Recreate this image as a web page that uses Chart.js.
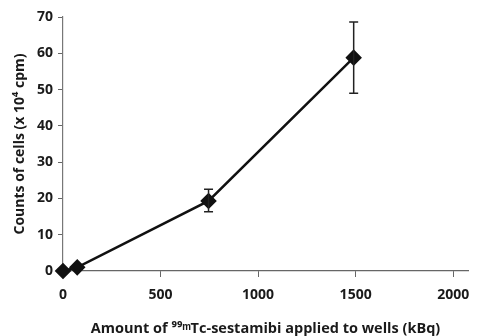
<!DOCTYPE html>
<html>
<head>
<meta charset="utf-8">
<script src="https://cdn.jsdelivr.net/npm/chart.js@4"></script>
<style>
html,body{margin:0;padding:0;background:#fff;}
#wrap{width:477px;height:336px;position:relative;}
</style>
</head>
<body>
<div id="wrap"><canvas id="c" width="477" height="336"></canvas></div>
<script>
const activity = [0, 73, 746, 1490];
const counts = [0, 1.0, 19.3, 58.8];
const errLow = [0, 0, 16.3, 49.0];
const errHigh = [0, 0, 22.5, 68.6];
const xTicks = [0, 500, 1000, 1500, 2000];
const yTicks = [0, 10, 20, 30, 40, 50, 60, 70];
const xTitle = 'Amount of \u2079\u2079\u1d50Tc-sestamibi applied to wells (kBq)';
const yTitle = 'Counts of cells (x 10\u2074 cpm)';

const errorBars = {
  id: 'errorBars',
  afterDatasetsDraw(chart) {
    const ctx = chart.ctx;
    const xs = chart.scales.x, ys = chart.scales.y;
    ctx.save();
    ctx.strokeStyle = '#222';
    ctx.lineWidth = 1.5;
    activity.forEach((a, i) => {
      if (errHigh[i] === errLow[i]) return;
      const px = xs.getPixelForValue(a);
      const top = ys.getPixelForValue(errHigh[i]);
      const bot = ys.getPixelForValue(errLow[i]);
      ctx.beginPath();
      ctx.moveTo(px, top); ctx.lineTo(px, bot);
      ctx.moveTo(px - 4.5, top); ctx.lineTo(px + 4.5, top);
      ctx.moveTo(px - 4.5, bot); ctx.lineTo(px + 4.5, bot);
      ctx.stroke();
    });
    ctx.restore();
  }
};

const fontFam = '"Open Sans", "Liberation Sans", sans-serif';

new Chart(document.getElementById('c'), {
  type: 'scatter',
  data: {
    datasets: [{
      data: activity.map((a, i) => ({x: a, y: counts[i]})),
      showLine: true,
      borderColor: '#111',
      borderWidth: 2.5,
      backgroundColor: '#111',
      pointStyle: 'rectRot',
      pointRadius: 6.5,
      pointHoverRadius: 6.5,
      clip: false
    }]
  },
  options: {
    responsive: false,
    animation: false,
    events: [],
    layout: {padding: {top: 17, right: 7, left: 0, bottom: 0}},
    plugins: {legend: {display: false}, tooltip: {enabled: false}},
    scales: {
      x: {
        type: 'linear',
        min: 0,
        max: 2076,
        afterBuildTicks: s => { s.ticks = xTicks.map(v => ({value: v})); },
        afterFit: s => { s.height = 65; s.paddingRight = 0; s.paddingLeft = 0; },
        grid: {drawOnChartArea: false, drawTicks: true, tickLength: 6, color: '#666', lineWidth: 1},
        border: {display: true, color: '#666', width: 1.2},
        ticks: {color: '#1a1a1a', padding: 10, maxRotation: 0, callback: v => String(v), font: {family: fontFam, size: 14, weight: 'bold'}},
        title: {display: true, text: xTitle, color: '#1a1a1a', padding: {top: 10, bottom: 0}, font: {family: fontFam, size: 14.5, weight: 'bold', lineHeight: 1.05}}
      },
      y: {
        min: 0,
        max: 70,
        afterBuildTicks: s => { s.ticks = yTicks.map(v => ({value: v})); },
        afterFit: s => { s.width = 63; },
        grid: {drawOnChartArea: false, drawTicks: true, tickLength: 5, color: '#666', lineWidth: 1},
        border: {display: true, color: '#777', width: 1.2},
        ticks: {color: '#1a1a1a', padding: 5, callback: v => String(v), font: {family: fontFam, size: 14, weight: 'bold'}},
        title: {display: true, text: yTitle, color: '#1a1a1a', padding: {top: 12, bottom: 0}, font: {family: fontFam, size: 14, weight: 'bold'}}
      }
    }
  },
  plugins: [errorBars]
});
</script>
</body>
</html>
